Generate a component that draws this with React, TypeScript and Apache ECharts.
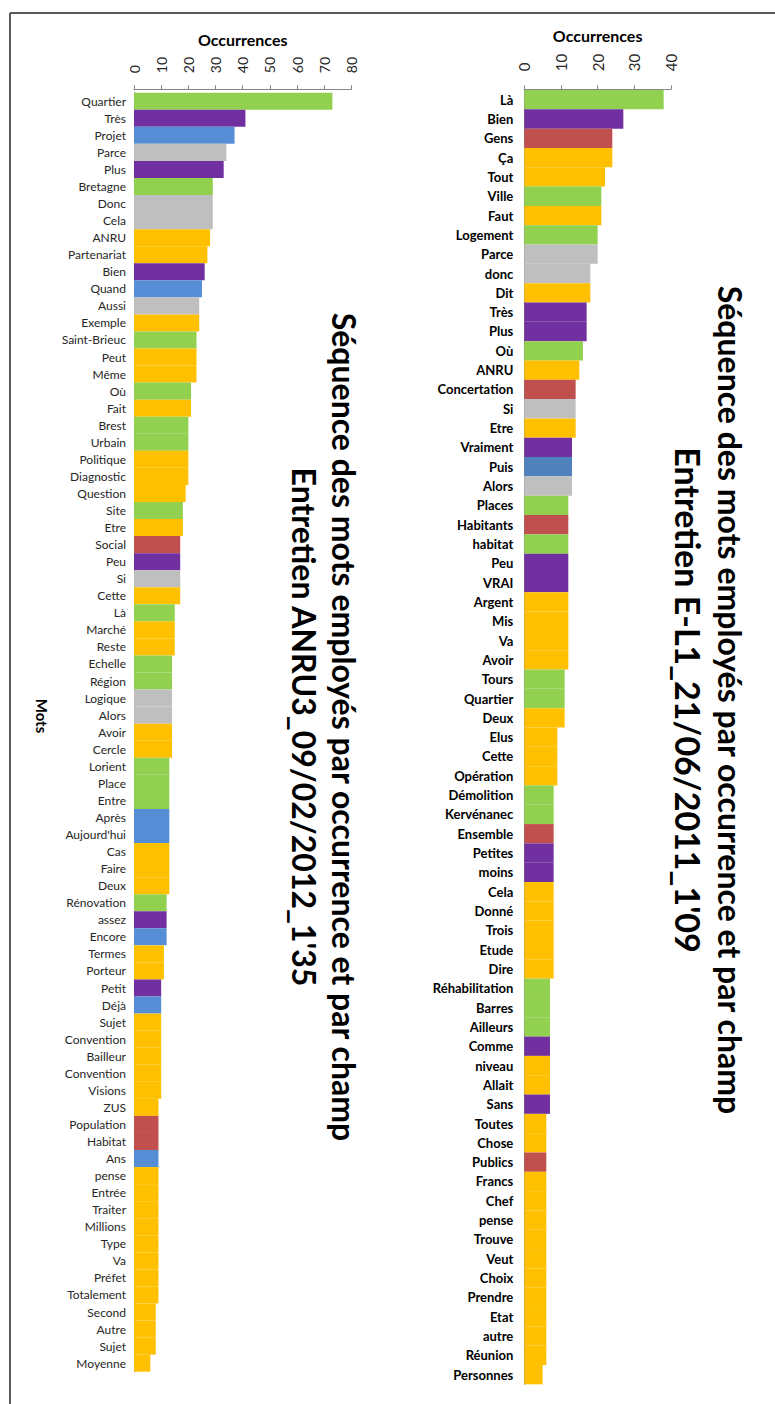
import React, { useEffect, useRef } from "react";
import * as echarts from "echarts";

// ---- Left chart: Entretien ANRU3 ----
const leftWords = [
  "Quartier", "Très", "Projet", "Parce", "Plus", "Bretagne", "Donc", "Cela", "ANRU", "Partenariat",
  "Bien", "Quand", "Aussi", "Exemple", "Saint-Brieuc", "Peut", "Même", "Où", "Fait", "Brest",
  "Urbain", "Politique", "Diagnostic", "Question", "Site", "Etre", "Social", "Peu", "Si", "Cette",
  "Là", "Marché", "Reste", "Echelle", "Région", "Logique", "Alors", "Avoir", "Cercle", "Lorient",
  "Place", "Entre", "Après", "Aujourd'hui", "Cas", "Faire", "Deux", "Rénovation", "assez", "Encore",
  "Termes", "Porteur", "Petit", "Déjà", "Sujet", "Convention", "Bailleur", "Convention", "Visions", "ZUS",
  "Population", "Habitat", "Ans", "pense", "Entrée", "Traiter", "Millions", "Type", "Va", "Préfet",
  "Totalement", "Second", "Autre", "Sujet", "Moyenne",
];
const leftCounts = [
  73, 41, 37, 34, 33, 29, 29, 29, 28, 27,
  26, 25, 24, 24, 23, 23, 23, 21, 21, 20,
  20, 20, 20, 19, 18, 18, 17, 17, 17, 17,
  15, 15, 15, 14, 14, 14, 14, 14, 14, 13,
  13, 13, 13, 13, 13, 13, 13, 12, 12, 12,
  11, 11, 10, 10, 10, 10, 10, 10, 10, 9,
  9, 9, 9, 9, 9, 9, 9, 9, 9, 9,
  9, 8, 8, 8, 6,
];
const leftFields = [
  "G", "P", "B", "S", "P", "G", "S", "S", "O", "O",
  "P", "B", "S", "O", "G", "O", "O", "G", "O", "G",
  "G", "O", "O", "O", "G", "O", "R", "P", "S", "O",
  "G", "O", "O", "G", "G", "S", "S", "O", "O", "G",
  "G", "G", "B", "B", "O", "O", "O", "G", "P", "B",
  "O", "O", "P", "B", "O", "O", "O", "O", "O", "O",
  "R", "R", "B", "O", "O", "O", "O", "O", "O", "O",
  "O", "O", "O", "O", "O",
];

// ---- Right chart: Entretien E-L1 ----
const rightWords = [
  "Là", "Bien", "Gens", "Ça", "Tout", "Ville", "Faut", "Logement", "Parce", "donc",
  "Dit", "Très", "Plus", "Où", "ANRU", "Concertation", "Si", "Etre", "Vraiment", "Puis",
  "Alors", "Places", "Habitants", "habitat", "Peu", "VRAI", "Argent", "Mis", "Va", "Avoir",
  "Tours", "Quartier", "Deux", "Elus", "Cette", "Opération", "Démolition", "Kervénanec", "Ensemble", "Petites",
  "moins", "Cela", "Donné", "Trois", "Etude", "Dire", "Réhabilitation", "Barres", "Ailleurs", "Comme",
  "niveau", "Allait", "Sans", "Toutes", "Chose", "Publics", "Francs", "Chef", "pense", "Trouve",
  "Veut", "Choix", "Prendre", "Etat", "autre", "Réunion", "Personnes",
];
const rightCounts = [
  38, 27, 24, 24, 22, 21, 21, 20, 20, 18,
  18, 17, 17, 16, 15, 14, 14, 14, 13, 13,
  13, 12, 12, 12, 12, 12, 12, 12, 12, 12,
  11, 11, 11, 9, 9, 9, 8, 8, 8, 8,
  8, 8, 8, 8, 8, 8, 7, 7, 7, 7,
  7, 7, 7, 6, 6, 6, 6, 6, 6, 6,
  6, 6, 6, 6, 6, 6, 5,
];
const rightFields = [
  "G", "P", "R", "O", "O", "G", "O", "G", "S", "S",
  "O", "P", "P", "G", "O", "R", "S", "O", "P", "B",
  "S", "G", "R", "G", "P", "P", "O", "O", "O", "O",
  "G", "G", "O", "O", "O", "O", "G", "G", "R", "P",
  "P", "O", "O", "O", "O", "O", "G", "G", "G", "P",
  "O", "O", "P", "O", "O", "R", "O", "O", "O", "O",
  "O", "O", "O", "O", "O", "O", "O",
];

const xTicksLeft = [0, 80, 10];
const xTicksRight = [0, 40, 10];

const leftPalette: Record<string, string> = {
  G: "#92D050", P: "#7030A0", B: "#558ED5", S: "#BFBFBF", O: "#FFC000", R: "#C0504D",
};
const rightPalette: Record<string, string> = {
  G: "#92D050", P: "#7030A0", B: "#4F81BD", S: "#BFBFBF", O: "#FFC000", R: "#C0504D",
};

const TITLE1 = "Séquence des mots employés par occurrence et par champ";
const TITLE_LEFT = "Entretien ANRU3_09/02/2012_1'35";
const TITLE_RIGHT = "Entretien E-L1_21/06/2011_1'09";

const FONT = "Lato, 'Open Sans', sans-serif";

export default function App() {
  const ref = useRef<HTMLDivElement>(null);
  useEffect(() => {
    if (!ref.current) return;
    const chart = echarts.init(ref.current, undefined, { renderer: "svg" });
    const axisGray = "#868686";
    const mkX = (gridIndex: number, t: number[], margin: number, fs: number, gap: number, offset: number) => ({
      type: "value" as const,
      gridIndex,
      position: "top" as const,
      min: t[0],
      max: t[1],
      interval: t[2],
      offset,
      name: "Occurrences",
      nameLocation: "middle" as const,
      nameGap: gap,
      nameTextStyle: { fontFamily: FONT, fontWeight: "bold" as const, fontSize: 16, color: "#000" },
      axisLine: { show: true, lineStyle: { color: axisGray, width: 1 } },
      axisTick: { show: true, length: 4, lineStyle: { color: axisGray } },
      axisLabel: { rotate: -90, margin, fontFamily: FONT, fontSize: fs, color: "#262626" },
      splitLine: { show: false },
    });
    const mkY = (gridIndex: number, words: string[], bold: boolean, fs: number, margin: number) => ({
      type: "category" as const,
      gridIndex,
      data: words,
      inverse: true,
      axisLine: { show: true, lineStyle: { color: axisGray, width: 1 } },
      axisTick: { show: false },
      axisLabel: {
        interval: 0,
        margin,
        fontFamily: FONT,
        fontSize: fs,
        fontWeight: bold ? ("bold" as const) : ("normal" as const),
        color: bold ? "#000" : "#262626",
      },
    });
    const mkData = (vals: number[], fields: string[], pal: Record<string, string>) =>
      vals.map((v, i) => ({ value: v, itemStyle: { color: pal[fields[i]] } }));

    const titleText = (x: number, y: number, text: string, size: number) => ({
      type: "text" as const,
      x,
      y,
      rotation: -Math.PI / 2,
      style: {
        text,
        fontFamily: FONT,
        fontWeight: "bold" as const,
        fontSize: size,
        fill: "#000",
        textAlign: "center" as const,
        textVerticalAlign: "middle" as const,
      },
    });

    chart.setOption({
      animation: false,
      backgroundColor: "#fff",
      grid: [
        { left: 134, top: 92.7, width: 217.4, height: 1279, containLabel: false },
        { left: 524.3, top: 90, width: 146.7, height: 1294.3, containLabel: false },
      ],
      xAxis: [mkX(0, xTicksLeft, 16, 14, 42, 3.5), mkX(1, xTicksRight, 18, 15, 46, 0.7)],
      yAxis: [mkY(0, leftWords, false, 12, 8), mkY(1, rightWords, true, 13, 11)],
      series: [
        {
          type: "bar",
          xAxisIndex: 0,
          yAxisIndex: 0,
          barCategoryGap: "0%",
          data: mkData(leftCounts, leftFields, leftPalette),
        },
        {
          type: "bar",
          xAxisIndex: 1,
          yAxisIndex: 1,
          barCategoryGap: "0%",
          data: mkData(rightCounts, rightFields, rightPalette),
        },
      ],
      graphic: [
        { type: "line", shape: { x1: 10, y1: 13, x2: 775, y2: 13 }, style: { stroke: "#595959", lineWidth: 2 } },
        { type: "line", shape: { x1: 10, y1: 13, x2: 10, y2: 1404 }, style: { stroke: "#595959", lineWidth: 2 } },
        titleText(344, 727, TITLE1, 32),
        titleText(304, 727, TITLE_LEFT, 32),
        titleText(730, 700, TITLE1, 32),
        titleText(688, 700, TITLE_RIGHT, 34),
        {
          type: "text",
          x: 42,
          y: 716,
          rotation: -Math.PI / 2,
          style: {
            text: "Mots",
            fontFamily: FONT,
            fontWeight: "bold",
            fontSize: 15,
            fill: "#000",
            textAlign: "center",
            textVerticalAlign: "middle",
          },
        },
      ],
    });
    return () => chart.dispose();
  }, []);
  return (
    <div
      ref={ref}
      style={{ position: "fixed", left: 0, top: 0, width: 775, height: 1404, background: "#fff" }}
    />
  );
}
